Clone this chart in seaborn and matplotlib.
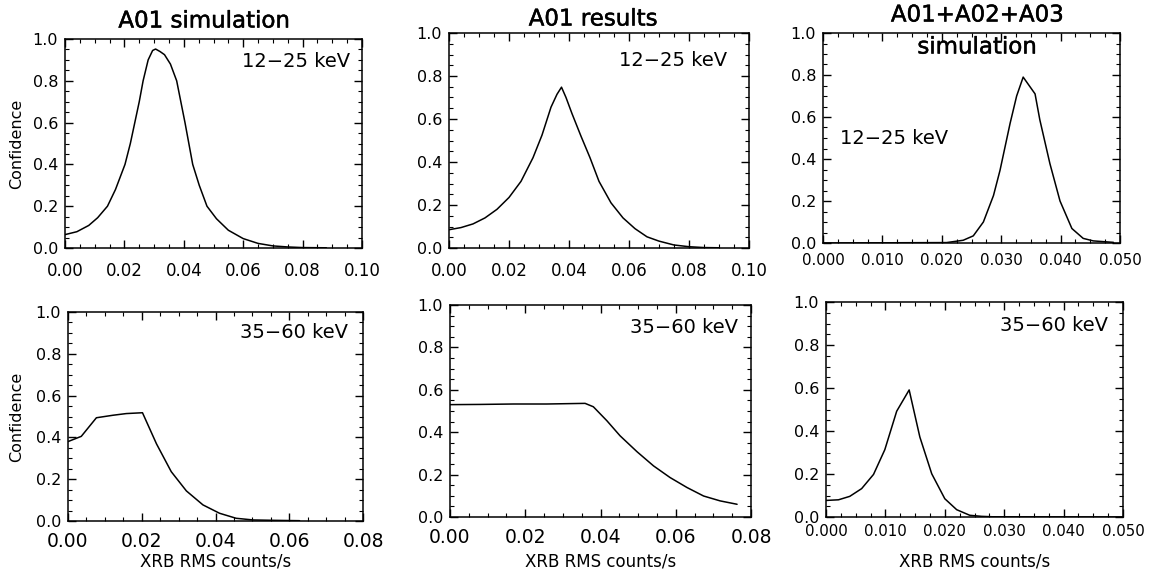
import numpy as np
import pandas as pd
import matplotlib
matplotlib.use("Agg")
import matplotlib.pyplot as plt
import matplotlib.patheffects as pe
from matplotlib.ticker import AutoMinorLocator, FormatStrFormatter
import seaborn as sns

# ---------------- data ----------------
p1_x = [0.0, 0.004, 0.008, 0.011, 0.0143, 0.017, 0.0202, 0.022, 0.0235, 0.025, 0.0263, 0.028,
        0.0295, 0.0305, 0.032, 0.0335, 0.0355, 0.0376, 0.039, 0.0404, 0.0417, 0.043, 0.0452,
        0.0478, 0.051, 0.055, 0.060, 0.065, 0.070, 0.075, 0.080, 0.088]
p1_y = [0.064, 0.078, 0.108, 0.145, 0.20, 0.28, 0.40, 0.50, 0.60, 0.70, 0.80, 0.90,
        0.945, 0.952, 0.94, 0.925, 0.88, 0.80, 0.70, 0.60, 0.50, 0.40, 0.30,
        0.20, 0.14, 0.085, 0.045, 0.022, 0.010, 0.005, 0.002, 0.001]

p2_x = [0.0, 0.004, 0.008, 0.012, 0.016, 0.020, 0.024, 0.028, 0.031, 0.034, 0.036, 0.0375,
        0.039, 0.041, 0.044, 0.047, 0.050, 0.054, 0.058, 0.062, 0.066, 0.070, 0.075, 0.080,
        0.085, 0.090]
p2_y = [0.085, 0.095, 0.112, 0.14, 0.18, 0.235, 0.31, 0.42, 0.525, 0.655, 0.715, 0.748,
        0.70, 0.625, 0.52, 0.42, 0.31, 0.21, 0.14, 0.09, 0.052, 0.032, 0.014, 0.006,
        0.002, 0.001]

p3_x = [0.0, 0.0208, 0.0236, 0.0253, 0.027, 0.0287, 0.0298, 0.0315, 0.0326, 0.0337, 0.0357,
        0.0365, 0.0382, 0.0399, 0.0419, 0.0438, 0.0455, 0.0489]
p3_y = [0.0, 0.002, 0.013, 0.034, 0.10, 0.226, 0.346, 0.57, 0.70, 0.79, 0.71,
        0.587, 0.378, 0.20, 0.069, 0.022, 0.01, 0.003]

p4_x = [0.0, 0.0036, 0.0077, 0.0122, 0.0158, 0.0202, 0.024, 0.028, 0.0321, 0.0366, 0.0411,
        0.0456, 0.0502, 0.0565, 0.0628]
p4_y = [0.38, 0.405, 0.494, 0.506, 0.514, 0.518, 0.369, 0.236, 0.144, 0.077, 0.037,
        0.013, 0.005, 0.003, 0.0015]

p5_x = [0.0, 0.008, 0.0169, 0.0257, 0.0359, 0.0381, 0.0417, 0.0452, 0.0497, 0.0541, 0.0585,
        0.063, 0.0674, 0.0718, 0.0763]
p5_y = [0.53, 0.531, 0.533, 0.533, 0.536, 0.52, 0.454, 0.383, 0.308, 0.241, 0.186,
        0.139, 0.099, 0.076, 0.06]

p6_x = [0.0, 0.0021, 0.004, 0.006, 0.008, 0.0099, 0.0119, 0.014, 0.0158, 0.0178, 0.02,
        0.022, 0.0242, 0.0262, 0.0281, 0.05]
p6_y = [0.077, 0.08, 0.096, 0.132, 0.198, 0.313, 0.492, 0.591, 0.372, 0.201, 0.085,
        0.034, 0.008, 0.003, 0.001, 0.0]

titles = ["A01 simulation", "A01 results", "A01+A02+A03"]
title2 = "simulation"
band_top = "12\u221225 keV"
band_bot = "35\u221260 keV"
ylabel = "Confidence"
xlabel = "XRB RMS counts/s"
xticks_a = [0.00, 0.02, 0.04, 0.06, 0.08, 0.10]
xticks_b = [0.000, 0.010, 0.020, 0.030, 0.040, 0.050]
xticks_c = [0.00, 0.02, 0.04, 0.06, 0.08]
yticks = [0.0, 0.2, 0.4, 0.6, 0.8, 1.0]

# ---------------- style ----------------
sns.set_theme(style="ticks")
plt.rcParams["font.family"] = ["DejaVu Sans"]
plt.rcParams["axes.linewidth"] = 1.1
for key in ("text.color", "axes.labelcolor", "xtick.color", "ytick.color", "axes.edgecolor"):
    plt.rcParams[key] = "black"

W, H = 1156, 572
fig = plt.figure(figsize=(W / 100, H / 100), dpi=100)
fig.patch.set_facecolor("white")


def box(l, r, t, b):
    return [l / W, (H - b) / H, (r - l) / W, (b - t) / H]


# rect, x, y, xlim, xticks, fmt, x-label size, x-label pad
panels = [
    (box(65, 362, 39, 248), p1_x, p1_y, (0, 0.1), xticks_a, "%.2f", 12, 10),
    (box(449, 749, 33, 248), p2_x, p2_y, (0, 0.1), xticks_a, "%.2f", 12, 10),
    (box(823, 1120, 33, 243), p3_x, p3_y, (0, 0.05), xticks_b, "%.3f", 10.8, 7),
    (box(68, 363, 312, 521), p4_x, p4_y, (0, 0.08), xticks_c, "%.2f", 13.5, 8),
    (box(450, 751, 305, 517), p5_x, p5_y, (0, 0.08), xticks_c, "%.2f", 13.5, 8),
    (box(826, 1123, 302, 517), p6_x, p6_y, (0, 0.05), xticks_b, "%.3f", 10.8, 5),
]

axes = []
for rect, xs, ys, xlim, xt, fmt, xfs, xpad in panels:
    ax = fig.add_axes(rect)
    df = pd.DataFrame({"x": xs, "y": ys})
    sns.lineplot(data=df, x="x", y="y", ax=ax, color="black", linewidth=1.1, sort=False)
    ax.set_xlim(*xlim)
    ax.set_ylim(0, 1.0)
    ax.set_xticks(xt)
    ax.set_yticks(yticks)
    ax.xaxis.set_major_formatter(FormatStrFormatter(fmt))
    ax.yaxis.set_major_formatter(FormatStrFormatter("%.1f"))
    ax.xaxis.set_minor_locator(AutoMinorLocator(4))
    ax.yaxis.set_minor_locator(AutoMinorLocator(4))
    ax.tick_params(which="both", direction="in", top=True, right=True, color="black",
                   labelcolor="black")
    ax.tick_params(which="major", length=6, width=1.0)
    ax.tick_params(which="minor", length=3, width=0.8)
    ax.tick_params(axis="x", labelsize=xfs, pad=xpad)
    ax.tick_params(axis="y", labelsize=11.5, pad=5)
    ax.set_xlabel("")
    ax.set_ylabel("")
    for s in ax.spines.values():
        s.set_color("black")
    axes.append(ax)

# axis labels
for ax, xfrac in ((axes[0], (17 - 65) / 297), (axes[3], (17 - 68) / 295)):
    ax.set_ylabel(ylabel, fontsize=11.5, color="black")
    ax.yaxis.set_label_coords(xfrac, 0.5)
    ax.yaxis.label.set_va("center")

for ax, (bot, hgt) in zip(axes[3:], ((521, 209), (517, 212), (517, 215))):
    ax.set_xlabel(xlabel, fontsize=12, color="black")
    ax.xaxis.set_label_coords(0.5, -(562 - bot) / hgt)
    ax.xaxis.label.set_va("center")

ann_fs = 14
kw = dict(va="center", fontsize=ann_fs, color="black")
axes[0].text(0.96, 0.89, band_top, transform=axes[0].transAxes, ha="right", **kw)
axes[1].text(0.927, 0.874, band_top, transform=axes[1].transAxes, ha="right", **kw)
axes[2].text(0.057, 0.50, band_top, transform=axes[2].transAxes, ha="left", **kw)
axes[3].text(0.949, 0.90, band_bot, transform=axes[3].transAxes, ha="right", **kw)
axes[4].text(0.957, 0.896, band_bot, transform=axes[4].transAxes, ha="right", **kw)
axes[5].text(0.95, 0.893, band_bot, transform=axes[5].transAxes, ha="right", **kw)

# titles
stroke = [pe.withStroke(linewidth=0.35, foreground="black")]
tkw = dict(ha="center", va="center", fontsize=16.5, color="black", path_effects=stroke)
fig.text(204 / W, 1 - 21 / H, titles[0], **tkw)
fig.text(593 / W, 1 - 19 / H, titles[1], **tkw)
fig.text(977 / W, 1 - 15 / H, titles[2], **tkw)
fig.text(977 / W, 1 - 47 / H, title2, **tkw)

fig.savefig("out.png", dpi=100, facecolor="white")
